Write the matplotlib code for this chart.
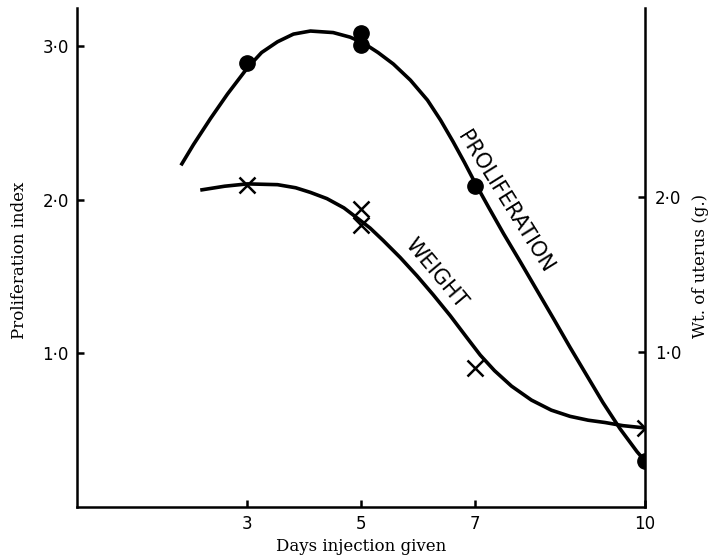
import matplotlib
matplotlib.use('Agg')
import matplotlib.pyplot as plt

# measured points (days after which injection was given)
prolif_days = [3, 5, 5, 7, 10]
prolif_index = [2.89, 3.09, 3.01, 2.09, 0.30]

weight_days = [3, 5, 5, 7, 10]
weight_g = [2.08, 1.92, 1.82, 0.90, 0.51]

# hand-drawn smooth curves
prolif_curve_x = [1.83, 2.05, 2.35, 2.65, 3.00, 3.25, 3.53, 3.81, 4.11, 4.51,
                  4.81, 5.05, 5.30, 5.57, 5.87, 6.17, 6.40, 6.62, 6.82, 7.01,
                  7.25, 7.51, 7.80, 8.10, 8.40, 8.68, 8.97, 9.26, 9.56, 9.86,
                  10.0]
prolif_curve_y = [2.225, 2.36, 2.53, 2.69, 2.86, 2.96, 3.03, 3.08, 3.10, 3.09,
                  3.06, 3.02, 2.96, 2.885, 2.78, 2.65, 2.52, 2.38, 2.245, 2.11,
                  1.95, 1.78, 1.60, 1.41, 1.22, 1.04, 0.86, 0.68, 0.51, 0.36,
                  0.30]

weight_curve_x = [2.17, 2.60, 3.00, 3.53, 3.85, 4.11, 4.40, 4.70, 4.95, 5.16,
                  5.39, 5.69, 5.99, 6.27, 6.57, 6.87, 7.10, 7.35, 7.65, 8.00,
                  8.35, 8.68, 9.00, 9.30, 9.61, 10.0]
weight_curve_y = [2.045, 2.07, 2.085, 2.08, 2.06, 2.03, 1.99, 1.93, 1.86, 1.80,
                  1.72, 1.61, 1.49, 1.37, 1.235, 1.09, 0.98, 0.88, 0.78, 0.69,
                  0.625, 0.585, 0.56, 0.545, 0.525, 0.51]

x_ticks = [3, 5, 7, 10]
left_ticks = [1, 2, 3]
left_labels = ['1\u00b70', '2\u00b70', '3\u00b70']
right_ticks = [1, 2]
right_labels = ['1\u00b70', '2\u00b70']

plt.rcParams['font.family'] = 'DejaVu Sans'

fig = plt.figure(figsize=(7.14, 5.6), dpi=100)
ax = fig.add_axes([77 / 714, 53 / 560, 568 / 714, 499 / 560])
ax2 = ax.twinx()

lw = 2.6
ax.plot(prolif_curve_x, prolif_curve_y, color='black', lw=lw,
        solid_capstyle='butt', solid_joinstyle='round')
ax.plot(prolif_days, prolif_index, 'o', color='black', ms=11)

ax2.plot(weight_curve_x, weight_curve_y, color='black', lw=lw,
         solid_capstyle='butt', solid_joinstyle='round')
ax2.plot(weight_days, weight_g, 'x', color='black', ms=11, mew=1.8)

ax.text(7.54, 1.99, 'PROLIFERATION', rotation=-58, rotation_mode='anchor',
        ha='center', va='center', fontsize=15)
ax.text(6.32, 1.52, 'WEIGHT', rotation=-50, rotation_mode='anchor',
        ha='center', va='center', fontsize=15)

ax.set_xlim(0, 10)
ax.set_ylim(0, 3.25)
ax2.set_ylim(0, 3.22)

ax.set_xticks(x_ticks)
ax.set_yticks(left_ticks, left_labels)
ax2.set_yticks(right_ticks, right_labels)

for s in ['top', 'right']:
    ax.spines[s].set_visible(False)
for s in ['top', 'left', 'bottom']:
    ax2.spines[s].set_visible(False)
for sp in [ax.spines['left'], ax.spines['bottom'], ax2.spines['right']]:
    sp.set_linewidth(1.8)

ax.tick_params(axis='y', direction='in', length=5, width=1.8, pad=6, labelsize=12)
ax.tick_params(axis='x', direction='in', length=5, width=1.8, pad=6, labelsize=12)
ax2.tick_params(axis='y', direction='in', length=5, width=1.8, pad=7, labelsize=12)

ax.set_xlabel('Days injection given', family='DejaVu Serif', fontsize=12)
ax.xaxis.set_label_coords(0.5, -0.062)
ax.set_ylabel('Proliferation index', family='DejaVu Serif', fontsize=12)
ax.yaxis.set_label_coords(-0.086, 0.495)
ax2.set_ylabel('Wt. of uterus (g.)', family='DejaVu Serif', fontsize=12)
ax2.yaxis.set_label_coords(1.083, 0.483)

fig.savefig('out.png', dpi=100)
